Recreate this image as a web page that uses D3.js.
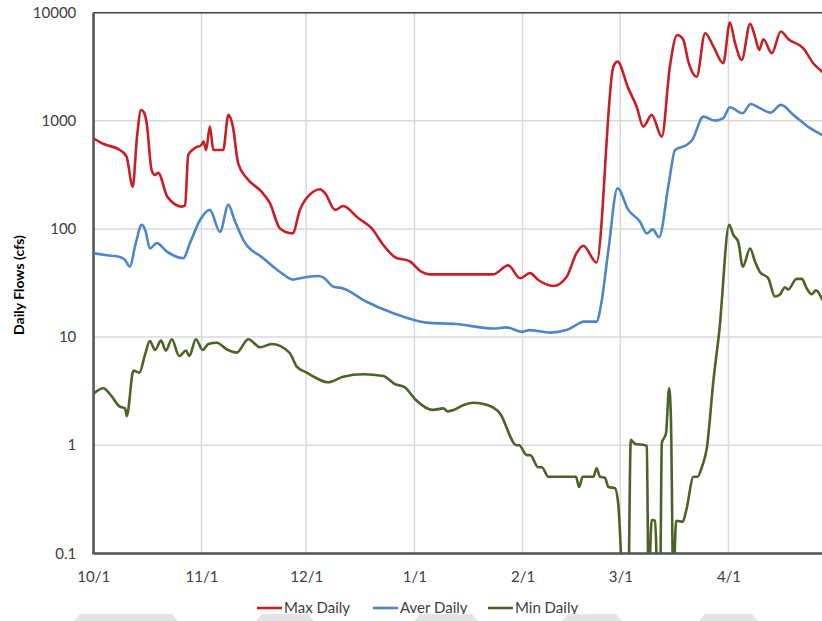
<!DOCTYPE html>
<html>
<head>
<meta charset="utf-8">
<script src="https://cdn.jsdelivr.net/npm/d3@7"></script>
<style>
  html, body { margin: 0; padding: 0; background: #fff; }
  svg { display: block; font-family: Lato, "Open Sans", sans-serif; }
</style>
</head>
<body>
<svg id="chart" width="822" height="621"></svg>
<script>
// ---- data (day offset from 10/1, value in cfs) ----
const monthTickDays = [0, 31, 61, 92, 123, 151, 182];
const monthTickLabels = ["10/1", "11/1", "12/1", "1/1", "2/1", "3/1", "4/1"];
const yTickValues = [0.1, 1, 10, 100, 1000, 10000];
const yTickLabels = ["0.1", "1", "10", "100", "1000", "10000"];
const seriesNames = ["Max Daily", "Aver Daily", "Min Daily"];

const maxDaily = [
  [0,690],[3,610],[7.6,537],[9.5,470],[11.3,246],[12.5,700],[13.7,1260],[14.5,1200],[15.3,950],
  [16.7,351],[17.6,315],[18.6,330],[21.2,199],[25.3,161],[26.3,165],[27.2,484],[29,557],[31,600],
  [31.6,643],[32.3,537],[33.4,884],[34.4,537],[37.2,537],[38.7,1135],[40,884],[41.5,405],[44,294],
  [48.2,221],[50.6,173],[53.5,101],[57.1,91],[59.2,150],[63,221],[65,233],[66.4,214],[69.3,150],
  [71.6,163],[75.9,126],[79.8,101],[83.1,71],[86.4,55],[90.7,50],[94.1,40],[96.5,38],[114.6,38],
  [118.9,46],[122.3,35],[125.1,39],[127.5,33.7],[131.8,29.7],[135.6,36],[138.5,60],[140.4,70],
  [144.2,49],[149,3160],[150.2,3530],[153.3,1995],[155.7,1350],[157.6,883],[160,1135],[162.9,714],
  [165.2,3160],[167.3,6220],[169,5680],[170.5,3530],[172.9,2560],[175.3,6460],[177.7,4860],
  [180.5,3410],[182.4,8110],[183.9,5220],[185.8,3660],[188.2,7880],[189.6,6010],[190.8,4530],
  [192,5680],[194.4,4220],[197,6700],[199.2,5680],[203.4,4700],[206.3,3410],[208.8,2850]
];
const averDaily = [
  [0,59.6],[4,57],[7.6,55],[9,52],[10.5,44.8],[12,70],[13.9,109],[15,95],[16.2,66],[18.2,74],
  [21,62],[25.8,53.6],[27.7,74],[30.6,121],[33.4,150],[36.3,94],[38.7,167],[40.5,120],[43,79],
  [48.7,53.6],[53.5,40],[57.3,34],[59.2,35],[64.5,36.7],[66,35.5],[68.8,29.2],[71.6,28.2],
  [78.3,21.2],[86,16.6],[95.5,13.6],[104,13.2],[114.6,12],[118.4,12.3],[122.7,11.2],[125,11.6],
  [130.8,11],[135.6,11.6],[138.5,13],[140.4,13.9],[144.2,13.9],[145.5,20],[147.6,64],[150.2,238],
  [153.3,150],[156.6,117],[158.6,91],[160.3,99],[162.1,84],[164.9,265],[166.7,538],[170,598],
  [171.6,665],[174.8,1093],[178.1,1004],[180.5,1057],[182.4,1336],[186,1175],[188.4,1432],
  [191,1309],[194.1,1191],[197,1403],[200.6,1135],[205.4,855],[208.8,741]
];
const minDaily = [
  [0,2.98],[2.9,3.36],[5,2.9],[7.6,2.27],[9.1,2.19],[9.6,1.86],[11.5,4.89],[13.2,4.69],[14.8,6.83],
  [16.2,9.2],[17.7,7.6],[19.4,9.27],[20.8,7.5],[22.5,9.55],[24.6,6.68],[26.6,7.5],[27.5,6.68],
  [29.4,9.55],[31.3,7.6],[33,8.63],[35.4,8.87],[38.2,7.71],[41.1,7.18],[44.4,9.55],[47.8,8.05],
  [51.1,8.63],[56.2,7.18],[58.3,5.32],[61.1,4.69],[64,4.16],[67.3,3.82],[71.6,4.3],[77.4,4.53],
  [83.1,4.37],[86.4,3.68],[89.3,3.43],[92.2,2.66],[97.4,2.12],[100.3,2.19],[101.5,2.05],[103.2,2.12],
  [106,2.34],[108.9,2.47],[112.7,2.36],[116.5,1.97],[121.3,1.0],[122,1.0],[124.2,0.81],[125.2,0.81],
  [127.5,0.625],[128.5,0.625],[130.4,0.51],[138.3,0.51],[139.2,0.41],[140.2,0.51],[143.3,0.51],
  [144.2,0.61],[145.2,0.51],[146.6,0.5],[147.6,0.41],[149.5,0.4],[150.4,0.29],[151.9,0.05],
  [153.3,0.05],[154,1.12],[155.2,1.03],[158.1,1.0],[158.6,0.98],[159.1,0.05],[160,0.203],[161,0.2],
  [161.7,0.05],[162.4,0.05],[162.9,1.04],[164.1,1.29],[165,3.36],[165.5,1.84],[166.2,0.05],[167,0.2],
  [168.9,0.196],[169.9,0.25],[172,0.51],[173.1,0.51],[174.4,0.63],[175.8,0.94],[177.7,4.0],
  [179.4,11.6],[182.2,109],[183.4,88],[184.8,76],[186.1,44.8],[188.2,66],[189.6,50],[191,40],
  [193.4,35],[195.3,23.7],[196.8,24.9],[198.2,28.9],[199.1,27.5],[201.5,34.5],[203,34.5],
  [204.4,28.3],[205.8,24.9],[207.1,27],[208.8,22.4]
];
const seriesData = [maxDaily, averDaily, minDaily];
const seriesColors = ["#c62026", "#4f86c6", "#4e6228"];

// ---- layout ----
const plotL = 93.3, plotR = 822, plotT = 12.7, plotB = 553.3;
const svg = d3.select("#chart");

const x = d3.scaleLinear().domain([0, 208.8]).range([plotL, plotR]);
const y = d3.scaleLog().domain([0.1, 10000]).range([plotB, plotT]);

svg.append("defs").append("clipPath").attr("id", "plotClip")
  .append("rect").attr("x", plotL).attr("y", plotT).attr("width", plotR - plotL).attr("height", plotB - plotT);

// gridlines
const grid = svg.append("g");
grid.selectAll("line.h").data(yTickValues.slice(1, -1)).enter().append("line")
  .attr("x1", plotL).attr("x2", plotR).attr("y1", d => y(d)).attr("y2", d => y(d))
  .attr("stroke", "#d9d9d9").attr("stroke-width", 1.5);
grid.selectAll("line.v").data(monthTickDays.slice(1)).enter().append("line")
  .attr("x1", d => x(d)).attr("x2", d => x(d)).attr("y1", plotT).attr("y2", plotB)
  .attr("stroke", "#d9d9d9").attr("stroke-width", 1.5);

// top border
svg.append("line").attr("x1", plotL).attr("x2", plotR).attr("y1", plotT).attr("y2", plotT)
  .attr("stroke", "#404040").attr("stroke-width", 1.5);

// axes
const yAxis = d3.axisLeft(y).tickValues(yTickValues).tickFormat((d, i) => yTickLabels[i]).tickSize(0).tickPadding(17);
const gy = svg.append("g").attr("transform", `translate(${plotL},0)`).call(yAxis);
gy.select(".domain").attr("stroke", "#595959").attr("stroke-width", 2);
gy.selectAll("text").attr("font-size", "15px").attr("fill", "#404040")
  .attr("font-family", "Lato, sans-serif");

const xAxis = d3.axisBottom(x).tickValues(monthTickDays).tickFormat((d, i) => monthTickLabels[i]).tickSize(0).tickPadding(18);
const gx = svg.append("g").attr("transform", `translate(0,${plotB})`).call(xAxis);
gx.select(".domain").attr("stroke", "#595959").attr("stroke-width", 2);
gx.selectAll("text").attr("font-size", "15px").attr("fill", "#404040")
  .attr("font-family", "Lato, sans-serif");

// lines
const line = d3.line().x(d => x(d[0])).y(d => y(d[1])).curve(d3.curveMonotoneX);
const lines = svg.append("g").attr("clip-path", "url(#plotClip)");
seriesData.forEach((s, i) => {
  lines.append("path").datum(s).attr("d", line)
    .attr("fill", "none").attr("stroke", seriesColors[i]).attr("stroke-width", 2.6)
    .attr("stroke-linejoin", "round").attr("stroke-linecap", "round");
});
// redraw axis lines on top
svg.append("line").attr("x1", plotL).attr("x2", plotL).attr("y1", plotT).attr("y2", plotB + 1)
  .attr("stroke", "#595959").attr("stroke-width", 2);
svg.append("line").attr("x1", plotL - 1).attr("x2", plotR).attr("y1", plotB).attr("y2", plotB)
  .attr("stroke", "#595959").attr("stroke-width", 2);

// y-axis title
svg.append("text").attr("transform", "translate(24,285) rotate(-90)")
  .attr("text-anchor", "middle").attr("font-size", "14px").attr("font-weight", "bold")
  .attr("fill", "#000").text("Daily Flows (cfs)");

// legend
const legendX = [257, 373, 488];
const legend = svg.append("g");
seriesNames.forEach((name, i) => {
  legend.append("line").attr("x1", legendX[i]).attr("x2", legendX[i] + 25)
    .attr("y1", 608).attr("y2", 608).attr("stroke", seriesColors[i]).attr("stroke-width", 2.6);
  legend.append("text").attr("x", legendX[i] + 27).attr("y", 613)
    .attr("font-size", "15px").attr("fill", "#404040").text(name);
});

// faint grey shapes along the bottom edge
const shapes = [[80,172],[262,308],[420,472],[568,616],[705,752]];
svg.append("g").selectAll("path").data(shapes).enter().append("path")
  .attr("d", d => `M${d[0]},614 L${d[1]},614 L${d[1]+6},621 L${d[0]-6},621 Z`)
  .attr("fill", "#e4e4e4");
</script>
</body>
</html>
